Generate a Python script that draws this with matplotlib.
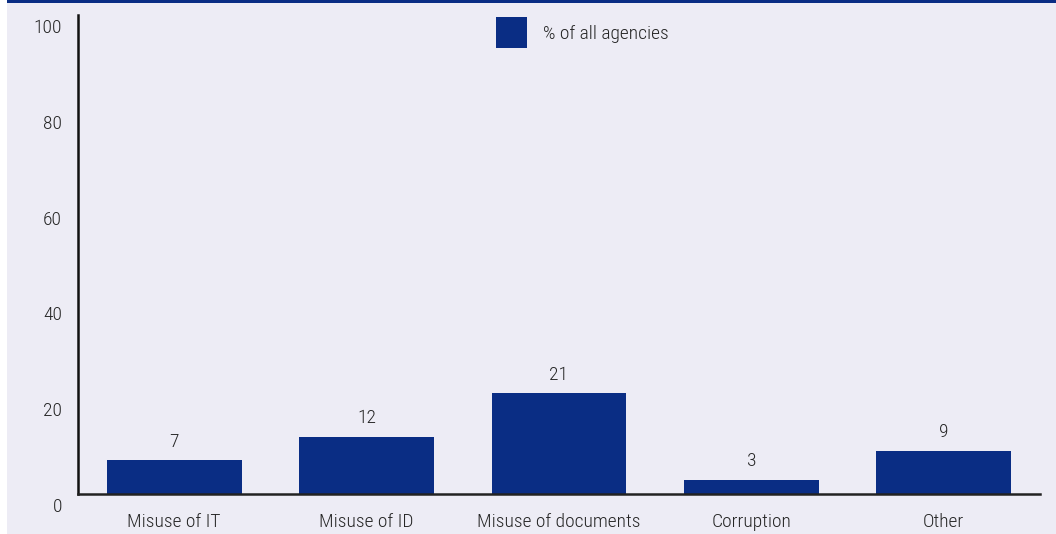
import matplotlib
matplotlib.use("Agg")
import matplotlib.pyplot as plt
from matplotlib.patches import Rectangle
import matplotlib.transforms as mtransforms

categories = ["Misuse of IT", "Misuse of ID", "Misuse of documents", "Corruption", "Other"]
values = [7, 12, 21, 3, 9]
yticks = [0, 20, 40, 60, 80, 100]
legend_label = "% of all agencies"

plt.rcParams['font.family'] = ['Roboto Condensed', 'DejaVu Sans']
plt.rcParams['font.weight'] = 'light'

BLUE = "#0A2D84"
BG = "#EDECF5"
TXT = "#262626"
FS = 14

W, H = 1056, 534
fig = plt.figure(figsize=(W / 100, H / 100), dpi=100)
fig.patch.set_facecolor("white")
fig.add_artist(Rectangle((7 / W, 0), 1 - 7 / W, 1, transform=fig.transFigure,
                         facecolor=BG, edgecolor="none", zorder=-10))
fig.add_artist(Rectangle((7 / W, 1 - 3 / H), 1 - 7 / W, 3 / H, transform=fig.transFigure,
                         facecolor=BLUE, edgecolor="none", zorder=-9))

ax = fig.add_axes([78 / W, 40 / H, (1040 - 78) / W, (494 - 15) / H])
ax.set_facecolor("none")
x = list(range(len(categories)))
ax.bar(x, values, width=0.70, color=BLUE, label=legend_label, zorder=2)
for xi, v in zip(x, values):
    ax.annotate(str(v), (xi, v), xytext=(0, 7), textcoords="offset points",
                ha="center", va="bottom", fontsize=FS, color=TXT)

ax.set_xlim(-0.5, 4.5)
ax.set_ylim(0, 100)
ax.set_yticks(yticks)
ax.set_xticks(x)
ax.set_xticklabels(categories)
ax.tick_params(axis="both", length=0, labelsize=FS, labelcolor=TXT)
ax.tick_params(axis="y", pad=11.5)
ax.tick_params(axis="x", pad=14)
offset = mtransforms.ScaledTranslation(0, -11 / 100, fig.dpi_scale_trans)
for lab in ax.get_yticklabels():
    lab.set_transform(lab.get_transform() + offset)

for s in ["top", "right"]:
    ax.spines[s].set_visible(False)
ax.spines["left"].set_linewidth(1.8)
ax.spines["bottom"].set_linewidth(1.8)
ax.spines["left"].set_color("#111111")
ax.spines["bottom"].set_color("#222222")

fs_px = FS * 100 / 72
hh = (31 / fs_px - 0.245) / 0.65
leg = ax.legend(loc="upper left", bbox_to_anchor=(496 / W, 1 - 17 / H),
                bbox_transform=fig.transFigure, frameon=False, borderpad=0,
                borderaxespad=0, fontsize=FS, handlelength=31 / fs_px,
                handleheight=hh, handletextpad=0.8,
                labelcolor=TXT)

fig.savefig("out.png", dpi=100, facecolor=fig.get_facecolor())
